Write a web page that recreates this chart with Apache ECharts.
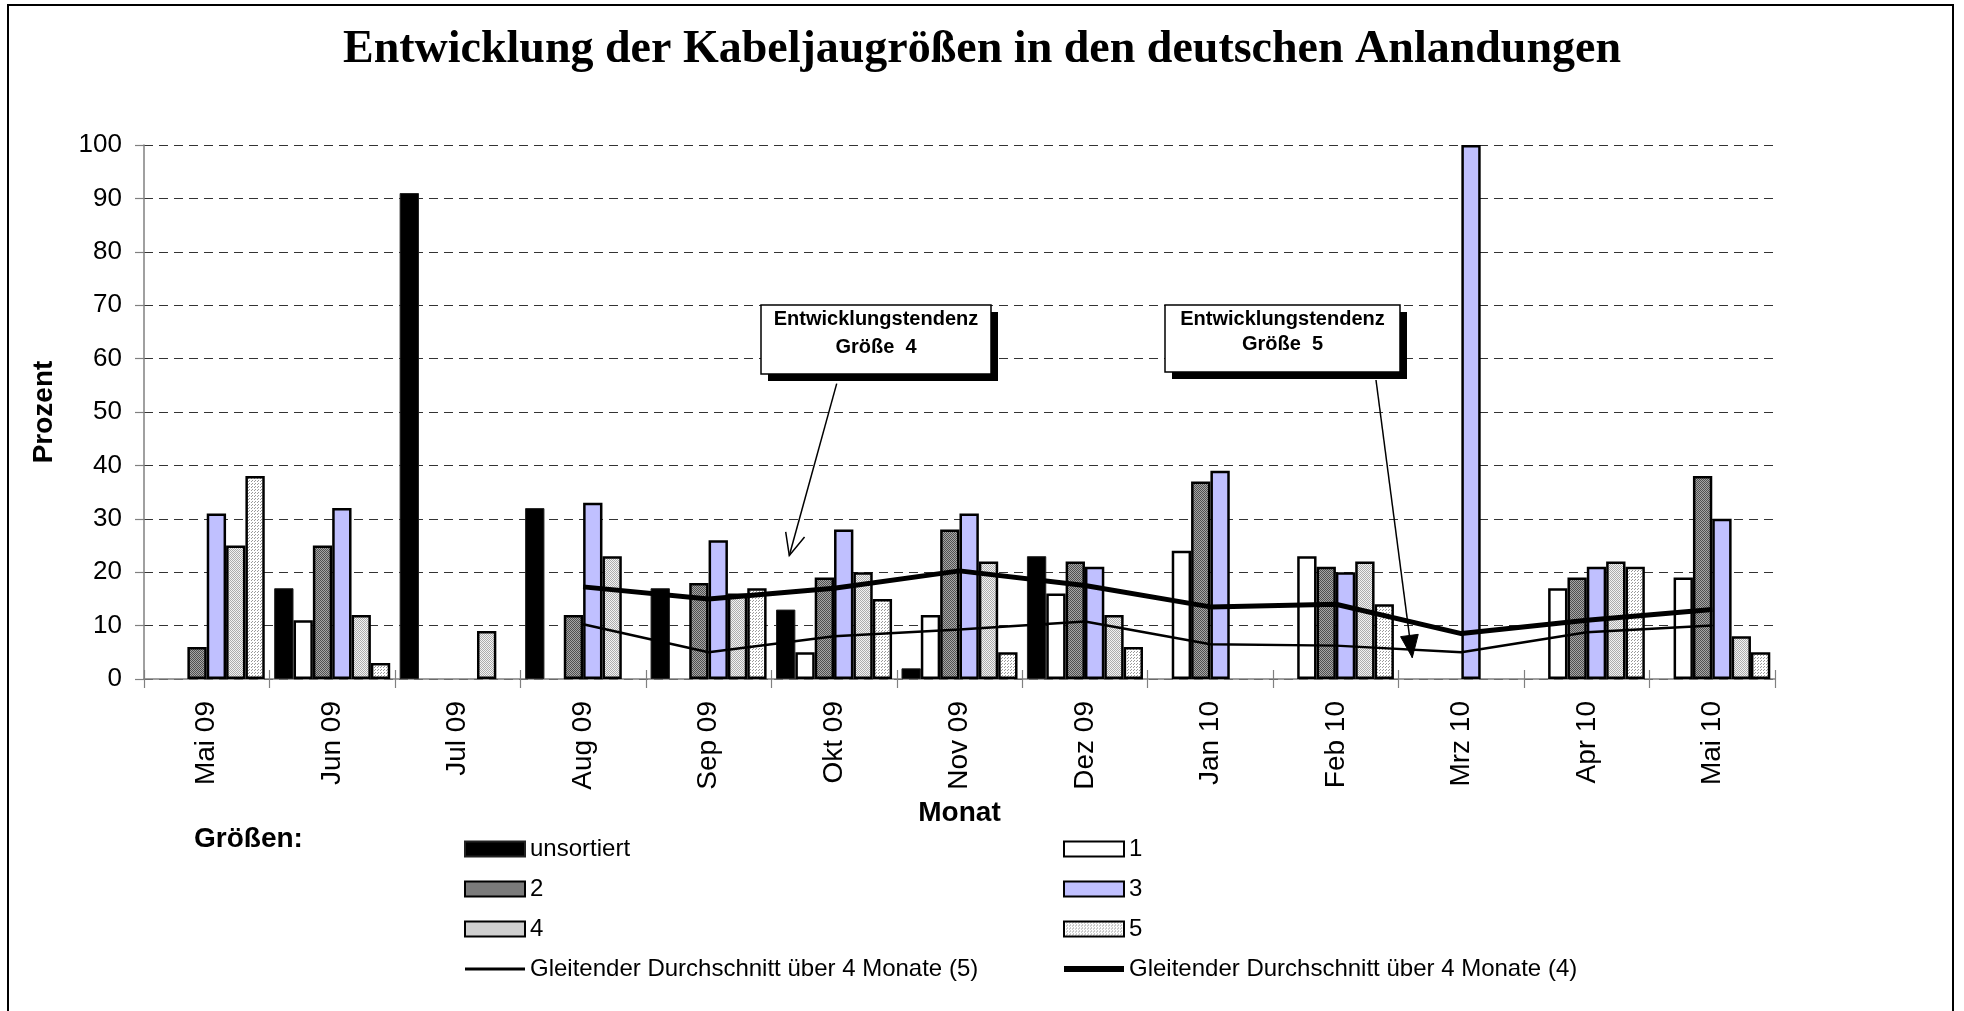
<!DOCTYPE html>
<html><head><meta charset="utf-8">
<script src="https://cdn.jsdelivr.net/npm/echarts@6/dist/echarts.min.js"></script>
<style>html,body{margin:0;padding:0;background:#fff}#c{width:1964px;height:1011px}</style>
</head><body><div id="c"></div>
<script>
// ---- data ----
const months = ['Mai 09','Jun 09','Jul 09','Aug 09','Sep 09','Okt 09','Nov 09','Dez 09','Jan 10','Feb 10','Mrz 10','Apr 10','Mai 10'];
const unsortiert = [null,17,91,32,17,13,2,23,null,null,null,null,null];
const size1 = [null,11,null,null,null,5,12,16,24,23,null,17,19];
const size2 = [6,25,null,12,18,19,28,22,37,21,null,19,38];
const size3 = [31,32,null,33,26,28,31,21,39,20,100,21,30];
const size4 = [25,12,9,23,16,20,22,12,null,22,null,22,8];
const size5 = [38,3,null,null,17,15,5,6,null,14,null,21,5];
const ma5 = [null,null,null,10.25,5,8,9.25,10.75,6.5,6.25,5,8.75,10];
const ma4 = [null,null,null,17.25,15,17,20.25,17.5,13.5,14,8.5,11,13];
const yMin = 0, yMax = 100, yStep = 10;

const FONT = '"Liberation Sans", Arial, sans-serif';
const MA5 = 'Gleitender Durchschnitt über 4 Monate (5)';
const MA4 = 'Gleitender Durchschnitt über 4 Monate (4)';

function pattern(w, h, bg, fg, pts) {
  const c = document.createElement('canvas');
  c.width = w; c.height = h;
  const ctx = c.getContext('2d');
  ctx.fillStyle = bg; ctx.fillRect(0, 0, w, h);
  ctx.fillStyle = fg;
  pts.forEach(p => ctx.fillRect(p[0], p[1], 1, 1));
  return { image: c, repeat: 'repeat' };
}
const pat2 = pattern(2, 2, '#a6a6a6', '#505050', [[0,0],[1,1]]);
const pat4 = pattern(2, 2, '#f2f2f2', '#acacac', [[0,0],[1,1]]);
const pat5 = pattern(3, 3, '#ffffff', '#9a9a9a', [[0,0],[2,1]]);

function bar(name, data, color, bw, bc) {
  return {
    name, type: 'bar', data, barGap: '0%', barCategoryGap: '7.5%',
    itemStyle: { color, borderColor: bc || '#000', borderWidth: bw }
  };
}

const series = [
  bar('unsortiert', unsortiert, '#000', 1, '#222'),
  bar('1', size1, '#ffffff', 2.5),
  bar('2', size2, pat2, 2.5),
  bar('3', size3, '#c0c0ff', 2.5),
  bar('4', size4, pat4, 2.5),
  bar('5', size5, pat5, 2.5),
  { name: MA5, type: 'line', data: ma5, symbol: 'none',
    lineStyle: { color: '#000', width: 2.5 }, itemStyle: { color: '#000' }, z: 5 },
  { name: MA4, type: 'line', data: ma4, symbol: 'none',
    lineStyle: { color: '#000', width: 5 }, itemStyle: { color: '#000' }, z: 6 }
];

// annotation helpers (pixel layout of call-out boxes)
function arrowArms(x0, y0, x1, y1, len, ang) {
  const dx = x0 - x1, dy = y0 - y1, L = Math.hypot(dx, dy);
  const ux = dx / L, uy = dy / L;
  const r = (a) => [x1 + len * (ux * Math.cos(a) - uy * Math.sin(a)), y1 + len * (ux * Math.sin(a) + uy * Math.cos(a))];
  return [r(ang), r(-ang)];
}
const a1 = { x0: 836.7, y0: 383.6, x1: 789.3, y1: 555.5 };
const a2 = { x0: 1376, y0: 380, x1: 1412.3, y1: 657.6 };
const arms1 = arrowArms(a1.x0, a1.y0, a1.x1, a1.y1, 24, 0.42);
const head2 = arrowArms(a2.x0, a2.y0, a2.x1, a2.y1, 24, 0.38);

function box(x, y, w, h, l1, l2, l2y) {
  const cx = x + w / 2;
  return [
    { type: 'rect', shape: { x: x + 7, y: y + 7, width: w, height: h }, style: { fill: '#000' }, z: 100 },
    { type: 'rect', shape: { x, y, width: w, height: h }, style: { fill: '#fff', stroke: '#000', lineWidth: 1.5 }, z: 101 },
    { type: 'text', x: cx, y: y + 14, style: { text: l1, font: 'bold 20px ' + FONT, fill: '#000', align: 'center', verticalAlign: 'middle' }, z: 102 },
    { type: 'text', x: cx, y: l2y, style: { text: l2, font: 'bold 20px ' + FONT, fill: '#000', align: 'center', verticalAlign: 'middle' }, z: 102 }
  ];
}

const graphic = [
  { type: 'rect', shape: { x: 8, y: 5, width: 1945, height: 1100 }, style: { fill: 'none', stroke: '#000', lineWidth: 2 }, z: 0, silent: true },
  { type: 'text', x: 194, y: 839, style: { text: 'Größen:', font: 'bold 28px ' + FONT, fill: '#000', align: 'left', verticalAlign: 'middle' } },
  ...box(761, 305, 230, 69, 'Entwicklungstendenz', 'Größe  4', 347),
  ...box(1165, 305, 235, 67, 'Entwicklungstendenz', 'Größe  5', 344),
  { type: 'line', shape: { x1: a1.x0, y1: a1.y0, x2: a1.x1, y2: a1.y1 }, style: { stroke: '#000', lineWidth: 1.5 }, z: 100 },
  { type: 'polyline', shape: { points: [arms1[0], [a1.x1, a1.y1], arms1[1]] }, style: { stroke: '#000', lineWidth: 1.5, fill: 'none' }, z: 100 },
  { type: 'line', shape: { x1: a2.x0, y1: a2.y0, x2: a2.x1, y2: a2.y1 }, style: { stroke: '#000', lineWidth: 1.5 }, z: 100 },
  { type: 'polygon', shape: { points: [head2[0], [a2.x1, a2.y1], head2[1]] }, style: { fill: '#000', stroke: '#000' }, z: 100 }
];

const legendBase = {
  orient: 'vertical', top: 832, itemWidth: 60, itemHeight: 15, itemGap: 16,
  selectedMode: false, symbolKeepAspect: true,
  textStyle: { fontFamily: FONT, fontSize: 24, color: '#000', lineHeight: 24 }
};
const thinIcon = 'path://M0,0 L60,0 L60,3 L0,3 Z';
const thickIcon = 'path://M0,0 L60,0 L60,6 L0,6 Z';

const chart = echarts.init(document.getElementById('c'), null, { renderer: 'canvas' });
chart.setOption({
  animation: false,
  backgroundColor: '#fff',
  title: {
    text: 'Entwicklung der Kabeljaugrößen in den deutschen Anlandungen',
    left: 'center', top: 22,
    textStyle: { fontFamily: '"Liberation Serif", "Times New Roman", serif', fontWeight: 'bold', fontSize: 46, color: '#000' }
  },
  grid: { left: 144, right: 189, top: 145, bottom: 332, containLabel: false },
  legend: [
    Object.assign({}, legendBase, { left: 459, data: [
      { name: 'unsortiert', icon: 'rect' }, { name: '2', icon: 'rect' }, { name: '4', icon: 'rect' },
      { name: MA5, icon: thinIcon, itemStyle: { color: '#000', borderWidth: 0 } }
    ] }),
    Object.assign({}, legendBase, { left: 1058, data: [
      { name: '1', icon: 'rect' }, { name: '3', icon: 'rect' }, { name: '5', icon: 'rect' },
      { name: MA4, icon: thickIcon, itemStyle: { color: '#000', borderWidth: 0 } }
    ] })
  ],
  xAxis: [{
    type: 'category', data: months, position: 'bottom',
    name: 'Monat', nameLocation: 'middle', nameGap: 120,
    nameTextStyle: { fontFamily: FONT, fontWeight: 'bold', fontSize: 28, color: '#000' },
    axisLine: { lineStyle: { color: '#808080', width: 1.5 } },
    axisTick: { show: true, length: 9, lineStyle: { color: '#808080', width: 1.2 } },
    axisLabel: { rotate: 90, margin: 22, fontFamily: FONT, fontSize: 28, color: '#000' }
  }, {
    type: 'category', data: months, position: 'bottom',
    axisLine: { show: false }, axisLabel: { show: false },
    axisTick: { show: true, inside: true, length: 9, lineStyle: { color: '#808080', width: 1.2 } }
  }],
  yAxis: {
    type: 'value', min: yMin, max: yMax, interval: yStep,
    name: 'Prozent', nameLocation: 'middle', nameRotate: 90, nameGap: 86,
    nameTextStyle: { fontFamily: FONT, fontWeight: 'bold', fontSize: 28, color: '#000' },
    axisLine: { show: true, lineStyle: { color: '#808080', width: 1.5 } },
    axisTick: { show: true, length: 9, lineStyle: { color: '#808080', width: 1.2 } },
    axisLabel: { margin: 22, fontFamily: FONT, fontSize: 26, color: '#000' },
    splitLine: { show: true, lineStyle: { color: '#333', width: 1.2, type: [9, 6] } }
  },
  series,
  graphic
});
</script>
</body></html>
